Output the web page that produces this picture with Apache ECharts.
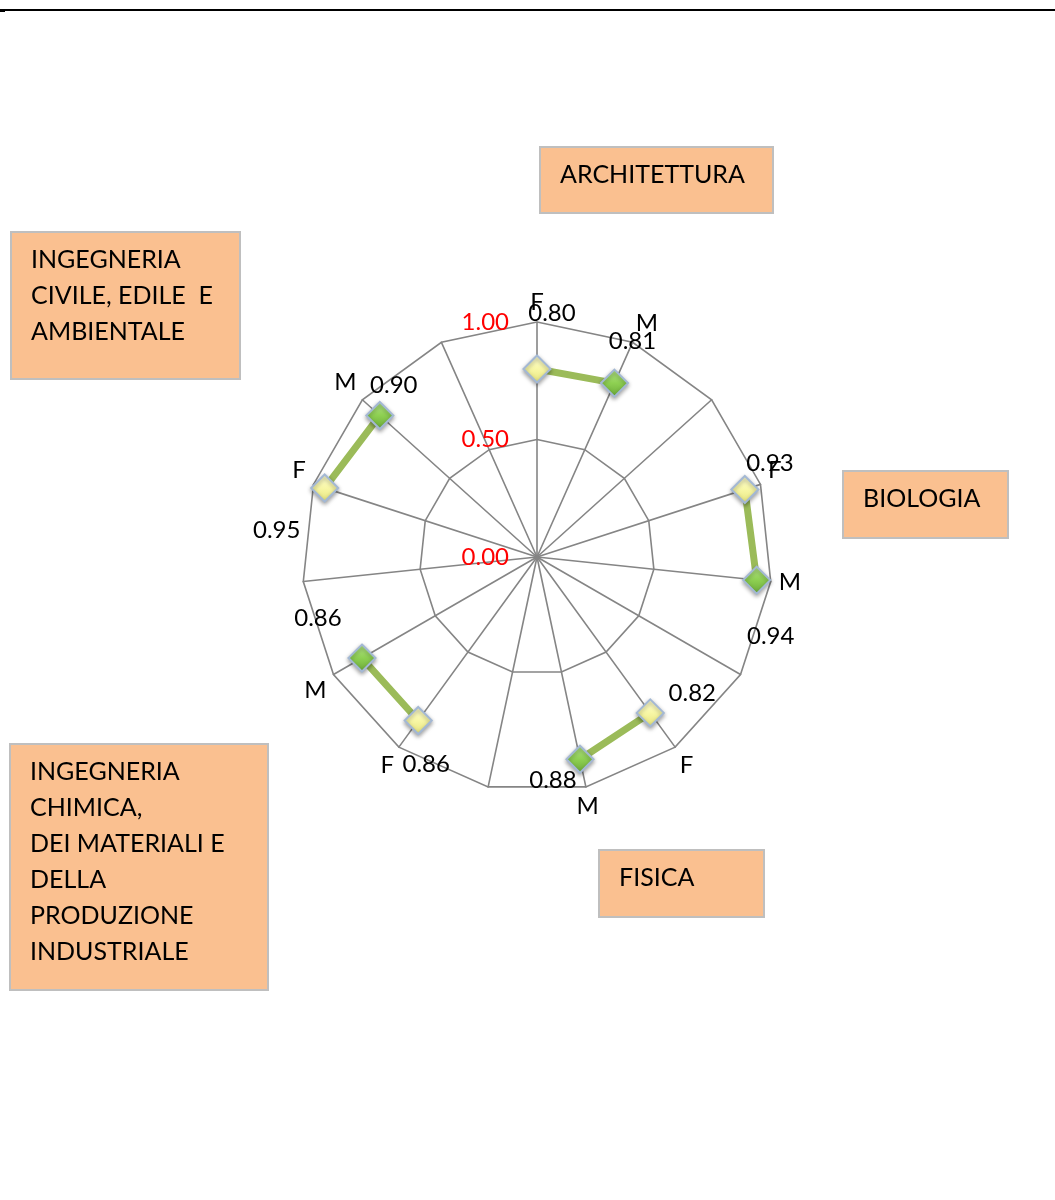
<!DOCTYPE html>
<html>
<head>
<meta charset="utf-8">
<script src="https://cdn.jsdelivr.net/npm/echarts@6/dist/echarts.min.js"></script>
<style>
  html, body { margin: 0; padding: 0; background: #fff; }
  #chart { width: 1055px; height: 1200px; }
</style>
</head>
<body>
<div id="chart"></div>
<script>
// spokes of the radar, clockwise from the top (blank = separator between faculties)
const categories = ['F', 'M', '', 'F', 'M', '', 'F', 'M', '', 'F', 'M', '', 'F', 'M', ''];
const values = [0.80, 0.81, null, 0.93, 0.94, null, 0.82, 0.88, null, 0.86, 0.86, null, 0.95, 0.90, null];
const radiusTicks = [0, 0.5, 1];
const faculties = [
  'ARCHITETTURA',
  'BIOLOGIA',
  'FISICA',
  'INGEGNERIA\nCHIMICA,\nDEI MATERIALI E\nDELLA\nPRODUZIONE\nINDUSTRIALE',
  'INGEGNERIA\nCIVILE, EDILE  E\nAMBIENTALE'
];

const chartDom = document.getElementById('chart');
const myChart = echarts.init(chartDom, null, { renderer: 'canvas' });

const center = [537, 557];
const radius = 235;
const font = 'Lato';
const gridColor = '#858585';

// data label offsets (Excel put them by hand)
const labelOffsets = [
  [15, -56], [18, -42], null, [25, -26], [14, 56], null,
  [42, -20], [-27, 21], null, [8, 44], [-44, -40], null,
  [-48, 42], [14, -30], null
];

const fColor = new echarts.graphic.LinearGradient(0, 0, 0, 1, [
  { offset: 0, color: '#ffffd6' }, { offset: 0.5, color: '#f8f7a6' }, { offset: 1, color: '#e6e47c' }
]);
const mColor = new echarts.graphic.LinearGradient(0, 0, 0, 1, [
  { offset: 0, color: '#b9e88e' }, { offset: 0.5, color: '#8ed052' }, { offset: 1, color: '#6aa838' }
]);

const lineData = values.map((v, i) => ({
  value: [v === null ? '-' : v, i],
  itemStyle: { color: categories[i] === 'F' ? fColor : mColor },
  label: labelOffsets[i] ? { offset: labelOffsets[i] } : { show: false }
}));

// orange text boxes round the chart
const boxes = [
  { x: 540, y: 147, w: 233, h: 66 },
  { x: 843, y: 471, w: 165, h: 67 },
  { x: 599, y: 850, w: 165, h: 67 },
  { x: 10, y: 744, w: 258, h: 246 },
  { x: 11, y: 232, w: 229, h: 147 }
];
const graphics = [
  { type: 'line', shape: { x1: 0, y1: 10, x2: 1055, y2: 10 }, style: { stroke: '#000', lineWidth: 2 } },
  { type: 'rect', shape: { x: 0, y: 10, width: 5, height: 2 }, style: { fill: '#000' } }
];
boxes.forEach((b, i) => {
  graphics.push({
    type: 'rect',
    shape: { x: b.x, y: b.y, width: b.w, height: b.h },
    style: { fill: '#fac090', stroke: '#bfbfbf', lineWidth: 2 }
  });
  graphics.push({
    type: 'text',
    x: b.x + 20,
    y: b.y + 10,
    style: {
      text: faculties[i],
      fill: '#000',
      font: '25px ' + font,
      lineHeight: 36,
      verticalAlign: 'top'
    }
  });
});

const option = {
  backgroundColor: '#fff',
  animation: false,
  graphic: graphics,
  radar: {
    center: center,
    radius: radius,
    startAngle: 90,
    splitNumber: 2,
    shape: 'polygon',
    indicator: categories.map(() => ({ name: '', min: 0, max: 1 })),
    axisName: { show: false },
    splitArea: { show: false },
    splitLine: { lineStyle: { color: gridColor, width: 1.6 } },
    axisLine: { lineStyle: { color: gridColor, width: 1.6 } }
  },
  polar: {
    center: center,
    radius: radius
  },
  angleAxis: {
    type: 'category',
    data: categories,
    startAngle: 90,
    clockwise: true,
    boundaryGap: false,
    axisLine: { show: false },
    axisTick: { show: false },
    splitLine: { show: false },
    axisLabel: {
      interval: 0,
      margin: 8,
      color: '#000',
      fontSize: 24,
      fontFamily: font
    }
  },
  radiusAxis: {
    min: radiusTicks[0],
    max: radiusTicks[radiusTicks.length - 1],
    interval: 0.5,
    axisLine: { show: false },
    axisTick: { show: false },
    splitLine: { show: false },
    axisLabel: {
      margin: 28,
      color: '#ff0000',
      fontSize: 24,
      fontFamily: font,
      formatter: (v) => v.toFixed(2)
    }
  },
  series: [
    {
      type: 'line',
      coordinateSystem: 'polar',
      connectNulls: false,
      symbol: 'diamond',
      symbolSize: 27,
      lineStyle: { color: '#9bbb59', width: 7 },
      itemStyle: {
        borderColor: '#a3b8d4',
        borderWidth: 2,
        shadowBlur: 4,
        shadowColor: 'rgba(0,0,0,0.35)',
        shadowOffsetY: 2
      },
      label: {
        show: true,
        position: 'inside',
        color: '#000',
        fontSize: 24,
        fontFamily: font,
        formatter: (p) => Number(p.value[0]).toFixed(2)
      },
      data: lineData,
      z: 5
    }
  ]
};

myChart.setOption(option);
window.addEventListener('resize', function () {
  myChart.resize();
});
</script>
</body>
</html>
